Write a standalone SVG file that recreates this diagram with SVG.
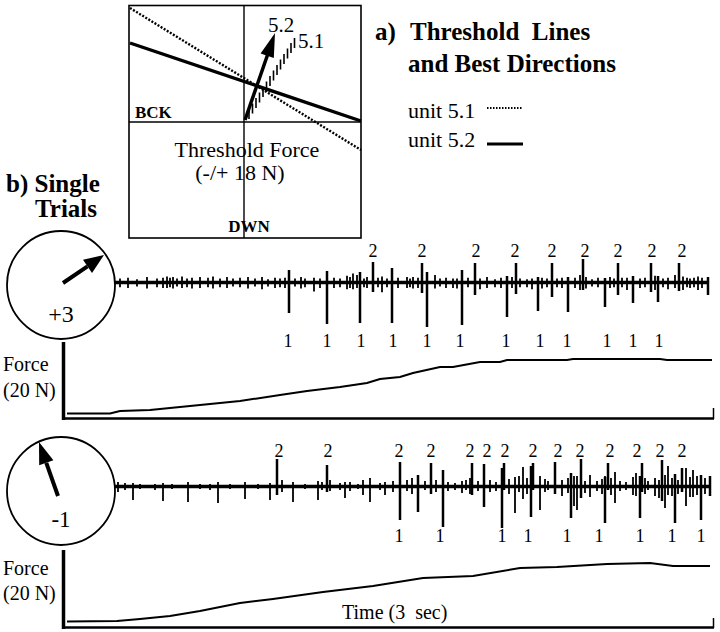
<svg xmlns="http://www.w3.org/2000/svg" width="720" height="632" viewBox="0 0 720 632">
<style>
.t{font-family:"Liberation Serif","Times New Roman",serif;fill:#000}
.b{font-weight:bold}
.ln{stroke:#000;fill:none}
.base{stroke:#000;stroke-width:3.4;fill:none}
.spk{stroke:#000;stroke-width:2.5;fill:none}
.sm{stroke:#000;stroke-width:1.8;fill:none}
.lab{font-family:"Liberation Serif","Times New Roman",serif;font-size:18px;text-anchor:middle}
</style>
<rect width="720" height="632" fill="#fff"/>

<g id="inset">
<rect x="129" y="5.5" width="232" height="232.5" class="ln" stroke-width="1.6"/>
<line x1="244" y1="5.5" x2="244" y2="238" class="ln" stroke-width="1.4"/>
<line x1="129" y1="122" x2="361" y2="122" class="ln" stroke-width="1.4"/>
<line x1="130" y1="8" x2="361" y2="150" class="ln" stroke-width="2.4" stroke-dasharray="2 1.6"/>
<line x1="130" y1="43" x2="361" y2="121" class="ln" stroke-width="3.4"/>
<path class="ln" stroke-width="1.6" d="M249 109V119M252.5 103.5V113.5M256 98V108M259.5 92.5V102.5M263 87V97M266.5 81.5V91.5M270 76V86M273.5 70.5V80.5M277 65V75M280.5 59.5V69.5M284 54V64M287.5 48.5V58.5M291 43V53M294.5 38V48"/>
<line x1="245" y1="120" x2="267.5" y2="55" class="ln" stroke-width="3.5"/>
<polygon points="275,33 273.8,58 260.6,53.4"/>
<text class="t" x="281" y="32" font-size="21" text-anchor="middle">5.2</text>
<text class="t" x="311" y="48" font-size="21" text-anchor="middle">5.1</text>
<text class="t b" x="135" y="118" font-size="17">BCK</text>
<text class="t" x="247" y="157" font-size="22" text-anchor="middle">Threshold Force</text>
<text class="t" x="240" y="180" font-size="22" text-anchor="middle">(-/+ 18 N)</text>
<text class="t b" x="249" y="232" font-size="17" text-anchor="middle">DWN</text>
</g>

<g id="legend">
<text class="t b" x="375" y="40" font-size="25">a)</text>
<text class="t b" x="410" y="40" font-size="25" style="white-space:pre" xml:space="preserve">Threshold  Lines</text>
<text class="t b" x="408" y="72" font-size="25">and Best Directions</text>
<text class="t" x="408" y="118" font-size="22">unit 5.1</text>
<line x1="487" y1="108" x2="523" y2="108" class="ln" stroke-width="2.2" stroke-dasharray="1.5 1.5"/>
<text class="t" x="408" y="147" font-size="22">unit 5.2</text>
<line x1="487" y1="144" x2="523" y2="144" class="ln" stroke-width="3"/>
</g>

<g id="title-b">
<text class="t b" x="6" y="192" font-size="25">b) Single</text>
<text class="t b" x="35" y="217" font-size="25">Trials</text>
</g>

<g id="trial1">
<circle cx="61" cy="285" r="54" class="ln" stroke-width="1.8"/>
<line x1="63" y1="283" x2="87.5" y2="266.3" class="ln" stroke-width="4"/>
<polygon points="104,255 92,272.9 83,259.7"/>
<text class="t" x="61" y="322" font-size="24" text-anchor="middle">+3</text>
<line x1="115" y1="282.5" x2="708" y2="282.5" class="base"/>
<path class="sm" transform="translate(0,282.5) scale(1,0.72) translate(0,-282.5)" d="M120 277V289M128 276V290M137 278V288M147 275V291M157 277V289M163 276V290M167 274V290M170 276V289M173 275V291M177 277V288M182 274V290M187 277V289M192 276V291M200 275V290M208 276V289M213 274V291M220 277V289M227 275V290M233 277V288M240 276V289M248 275V291M255 277V288M262 275V292M268 278V288M275 276V290M280 277V289M285 276V290M295 277V288M301 275V291M305 277V289M314 276V295M320 277V290M334 276V290M340 277V289M347 273V292M350 275V290M353 270V292M357 272V290M364 277V289M367 275V290M378 276V289M382 274V296M387 277V289M398 276V290M407 275V290M410 277V289M413 275V291M418 276V290M435 272V291M440 277V288M446 276V290M453 277V290M457 277V291M468 276V289M480 277V292M487 275V290M495 278V289M501 276V290M512 275V290M520 277V289M527 278V289M532 277V292M542 276V291M547 277V289M557 277V289M562 276V290M575 276V290M580 272V293M586 275V291M592 278V288M598 276V289M610 275V290M614 277V289M622 276V289M627 276V293M640 277V290M645 276V289M655 273V293M663 277V289M668 276V292M675 272V290M683 274V293M687 276V289M690 277V290M694 276V289M698 274V293M702 276V290"/>
<path class="spk" d="M289 270V313M327 271V324M360 272V323M373 262V292M392 268V323M422 263V293M427 272V327M462 270V325M475 263V295M507 276V317M516 263V294M538 277V311M552 263V297M568 277V312M583 259V290M605 278V307M618 263V295M633 276V303M651 263V292M658 276V302M679 263V291M708 277V295"/>
<g class="lab">
<text x="373" y="257">2</text><text x="422" y="257">2</text><text x="476" y="257">2</text><text x="515" y="257">2</text><text x="552" y="257">2</text><text x="585" y="257">2</text><text x="618" y="257">2</text><text x="652" y="257">2</text><text x="682" y="257">2</text>
<text x="288" y="347">1</text><text x="327" y="347">1</text><text x="361" y="347">1</text><text x="393" y="347">1</text><text x="427" y="347">1</text><text x="460" y="347">1</text><text x="506" y="347">1</text><text x="540" y="347">1</text><text x="567" y="347">1</text><text x="607" y="347">1</text><text x="633" y="347">1</text><text x="659" y="347">1</text>
</g>
</g>

<g id="force1">
<text class="t" x="3" y="371" font-size="20">Force</text>
<text class="t" x="3" y="397" font-size="20">(20 N)</text>
<line x1="63.5" y1="342" x2="63.5" y2="420" class="ln" stroke-width="3.5"/>
<line x1="62" y1="418.5" x2="714" y2="418.5" class="ln" stroke-width="2.5"/>
<line x1="713.5" y1="408" x2="713.5" y2="419" class="ln" stroke-width="1.5"/>
<polyline class="ln" stroke-width="2" points="67,413.5 110,413.5 120,411 150,410 180,407 210,404 240,401 280,395 307,391 340,387 367,383 380,379 400,377 413,373 440,367 453,367 480,362 500,362 507,360 567,360 573,359 660,359 667,360 712,360"/>
</g>

<g id="trial2">
<circle cx="61" cy="491" r="54" class="ln" stroke-width="1.8"/>
<line x1="58" y1="496" x2="46.3" y2="462.8" class="ln" stroke-width="4"/>
<polygon points="39,442 53.4,460.3 39.2,465.3"/>
<text class="t" x="61" y="527" font-size="23" text-anchor="middle">-1</text>
<line x1="115" y1="486.5" x2="710" y2="486.5" class="base"/>
<path class="sm" d="M118 482V492M125 483V490M133 483V500M140 484V489M155 484V490M163 483V501M172 484V489M188 482V502M200 484V489M210 484V490M218 482V503M230 484V489M245 482V499M258 484V489M270 483V500M282 480V492M293 482V502M305 484V489M318 481V500M322 482V490M330 480V491M340 483V490M345 482V498M350 482V491M358 484V489M363 480V495M370 478V502M380 483V490M385 482V495M393 481V492M407 480V491M412 478V494M425 481V490M436 480V492M448 482V491M455 483V490M462 481V493M466 480V490M470 478V494M478 481V491M490 480V492M496 482V491M509 479V494M515 477V513M519 476V492M523 467V499M527 478V494M540 476V510M545 479V492M548 481V490M562 480V496M568 478V493M574 476V506M577 476V510M585 481V493M590 475V497M597 481V491M602 479V494M605 476V500M611 478V495M615 472V503M620 481V491M626 482V490M633 477V495M636 473V496M645 478V494M648 481V490M655 478V496M659 480V498M665 475V508M668 466V495M672 478V496M678 480V494M686 468V506M690 477V497M693 470V497M697 476V495M705 478V494"/>
<path class="spk" d="M277 459V495M327 465V492M400 462V520M418 475V512M431 463V494M443 470V527M472 463V495M484 464V507M502 468V528M504 463V490M531 466V517M533 463V490M555 462V494M571 473V518M581 459V498M605 477V523M608 463V490M640 476V518M642 463V492M662 460V501M675 474V523M682 468V492M701 475V520M710 476V496"/>
<g class="lab">
<text x="279" y="457">2</text><text x="328" y="457">2</text><text x="399" y="457">2</text><text x="431" y="457">2</text><text x="470" y="457">2</text><text x="487" y="457">2</text><text x="505" y="457">2</text><text x="533" y="457">2</text><text x="558" y="457">2</text><text x="580" y="457">2</text><text x="610" y="457">2</text><text x="637" y="457">2</text><text x="660" y="457">2</text><text x="682" y="457">2</text>
<text x="399" y="542">1</text><text x="440" y="542">1</text><text x="502" y="542">1</text><text x="528" y="542">1</text><text x="567" y="542">1</text><text x="599" y="542">1</text><text x="640" y="542">1</text><text x="672" y="542">1</text><text x="701" y="542">1</text>
</g>
</g>

<g id="force2">
<text class="t" x="3" y="575" font-size="20">Force</text>
<text class="t" x="3" y="600" font-size="20">(20 N)</text>
<line x1="63.5" y1="550" x2="63.5" y2="629" class="ln" stroke-width="3.5"/>
<line x1="62" y1="627.5" x2="714" y2="627.5" class="ln" stroke-width="2.5"/>
<line x1="713.5" y1="618" x2="713.5" y2="628" class="ln" stroke-width="1.5"/>
<polyline class="ln" stroke-width="2" points="67,621.5 117,621 140,619 170,616 200,611 240,603 273,599 323,592 373,586 423,578 473,576 520,568 557,567 607,564 650,563 673,566 710,566"/>
<text class="t" x="342" y="619" font-size="20" style="white-space:pre" xml:space="preserve">Time (3  sec)</text>
</g>

<g id="connectors"></g>
</svg>
